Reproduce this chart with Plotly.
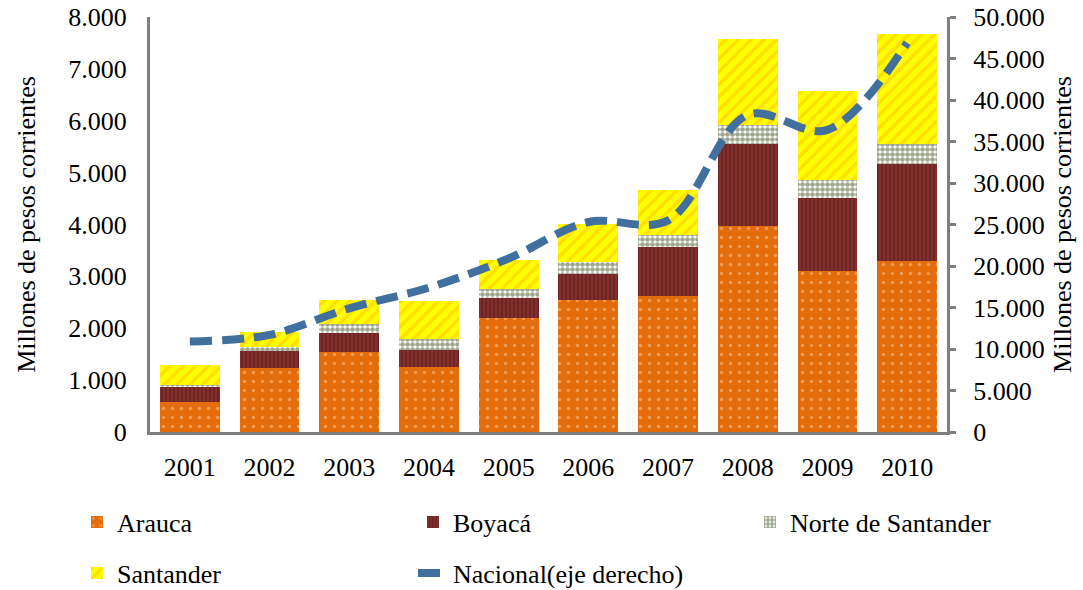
import plotly.graph_objects as go

years = ["2001", "2002", "2003", "2004", "2005", "2006", "2007", "2008", "2009", "2010"]
arauca = [580, 1230, 1550, 1260, 2190, 2545, 2620, 3970, 3110, 3300]
boyaca = [280, 330, 350, 320, 390, 500, 950, 1575, 1395, 1860]
norte = [50, 85, 185, 205, 175, 225, 225, 370, 355, 385]
santander = [385, 280, 465, 745, 565, 745, 865, 1670, 1720, 2125]
nacional = [10900, 11700, 14900, 17400, 20900, 25300, 25500, 38200, 36400, 46900]

left_ticks = [0, 1000, 2000, 3000, 4000, 5000, 6000, 7000, 8000]
right_ticks = [0, 5000, 10000, 15000, 20000, 25000, 30000, 35000, 40000, 45000, 50000]

FONT = "Liberation Serif"
FS = 26
GRAY = "#7F7F7F"

fig = go.Figure()
fig.add_trace(go.Bar(
    x=years, y=arauca, name="Arauca", legend="legend",
    marker=dict(color="#E46C0A", line=dict(width=0),
                pattern=dict(shape=".", bgcolor="#E46C0A", fgcolor="#F8C9A0", size=9, solidity=0.12)),
))
fig.add_trace(go.Bar(
    x=years, y=boyaca, name="Boyacá", legend="legend2",
    marker=dict(color="#772C2A", line=dict(width=0),
                pattern=dict(shape="|", bgcolor="#6E2624", fgcolor="#A03C3A", size=4, solidity=0.4)),
))
fig.add_trace(go.Bar(
    x=years, y=norte, name="Norte de Santander", legend="legend3",
    marker=dict(color="#4F6228", line=dict(width=0),
                pattern=dict(shape=".", bgcolor="#FFFFFF", fgcolor="#3E4E1E", size=5, solidity=0.7)),
))
fig.add_trace(go.Bar(
    x=years, y=santander, name="Santander", legend="legend4",
    marker=dict(color="#FFFF00", line=dict(width=0),
                pattern=dict(shape="/", bgcolor="#FFFF00", fgcolor="#FFC000", size=9, solidity=0.4)),
))
fig.add_trace(go.Scatter(
    x=years, y=nacional, name="Nacional(eje derecho)", legend="legend5", yaxis="y2",
    mode="lines", line=dict(color="#41709F", width=8, dash="22px,10px", shape="spline", smoothing=1),
))

legend_common = dict(
    orientation="h", xanchor="left", yanchor="middle",
    font=dict(family=FONT, size=FS, color="#000000"),
    bgcolor="rgba(0,0,0,0)",
)

row1_y = -0.217
row2_y = -0.34

fig.update_layout(
    width=1083, height=590,
    margin=dict(l=150, r=136, t=17, b=158, autoexpand=False),
    paper_bgcolor="white", plot_bgcolor="white",
    barmode="stack", bargap=0.25,
    separators=",.",
    font=dict(family=FONT, size=FS, color="#000000"),
    showlegend=True,
    legend=dict(x=-0.0916, y=row1_y, **legend_common),
    legend2=dict(x=0.33, y=row1_y, **legend_common),
    legend3=dict(x=0.7528, y=row1_y, **legend_common),
    legend4=dict(x=-0.0916, y=row2_y, **legend_common),
    legend5=dict(x=0.33, y=row2_y, **legend_common),
    xaxis=dict(
        type="category", showline=True, linecolor=GRAY, linewidth=3,
        ticks="", showgrid=False, ticklabelstandoff=10,
        tickfont=dict(family=FONT, size=FS, color="#000000"),
    ),
    yaxis=dict(
        range=[0, 8000], tickvals=left_ticks, tickformat=",d",
        showline=True, linecolor=GRAY, linewidth=3, ticks="", showgrid=False,
        zeroline=False, ticklabelstandoff=15,
        tickfont=dict(family=FONT, size=FS, color="#000000"),
        title=dict(text="Millones de pesos corrientes", font=dict(family=FONT, size=FS), standoff=26),
    ),
    yaxis2=dict(
        range=[0, 50000], tickvals=right_ticks, tickformat=",d",
        overlaying="y", side="right",
        showline=True, linecolor=GRAY, linewidth=3, ticks="outside", ticklen=6, tickwidth=3,
        tickcolor=GRAY, showgrid=False, zeroline=False, ticklabelstandoff=12,
        tickfont=dict(family=FONT, size=FS, color="#000000"),
        title=dict(text="Millones de pesos corrientes", font=dict(family=FONT, size=FS), standoff=10),
    ),
)

fig.write_html("out.html", config={"displayModeBar": False},
               post_script="document.body.style.margin='0';document.body.style.padding='0';")
